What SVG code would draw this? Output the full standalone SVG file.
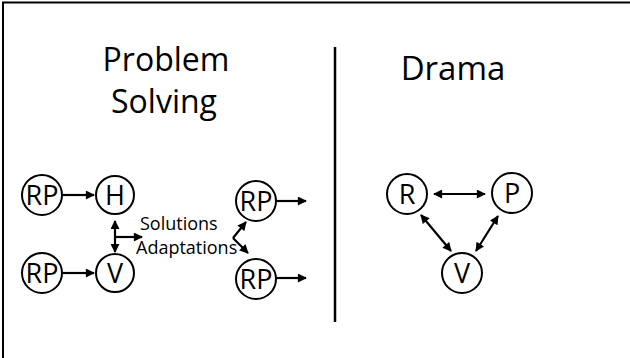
<svg xmlns="http://www.w3.org/2000/svg" width="630" height="358" viewBox="0 0 630 358">
<defs>
<style>
.n circle{fill:#fff;stroke:#000;stroke-width:2}
.n text{font-family:"Open Sans","Liberation Sans",sans-serif;font-size:27px;fill:#000;text-anchor:middle}
.t{font-family:"Open Sans","Liberation Sans",sans-serif;fill:#000}
.c line,.c path{stroke:#000;stroke-width:2.2;fill:none}
</style>
<marker id="ah" viewBox="0 0 10 10" refX="9" refY="5" markerWidth="10" markerHeight="9" markerUnits="userSpaceOnUse" orient="auto-start-reverse">
<path d="M0,0 L10,5 L0,10 Z" fill="#000"/>
</marker>
</defs>
<rect width="630" height="358" fill="#fff"/>
<g id="frame">
<line x1="2" y1="2.5" x2="630" y2="2.5" stroke="#000" stroke-width="2"/>
<line x1="3" y1="2" x2="3" y2="358" stroke="#000" stroke-width="2"/>
<line x1="335" y1="47" x2="335" y2="322" stroke="#000" stroke-width="2.5"/>
</g>
<g id="titles">
<text class="t" x="166" y="71" font-size="32" text-anchor="middle">Problem</text>
<text class="t" x="164" y="113" font-size="32" text-anchor="middle">Solving</text>
<text class="t" x="453" y="80" font-size="33" text-anchor="middle">Drama</text>
<text class="t" x="140" y="230" font-size="18">Solutions</text>
<text class="t" x="136" y="254" font-size="18">Adaptations</text>
</g>
<g class="c" id="connectors">
<line x1="62" y1="195" x2="94" y2="195" marker-end="url(#ah)"/>
<line x1="62" y1="273" x2="94" y2="273" marker-end="url(#ah)"/>
<line x1="115" y1="221" x2="115" y2="252" marker-start="url(#ah)" marker-end="url(#ah)"/>
<line x1="116" y1="237" x2="142" y2="237" marker-end="url(#ah)"/>
<line x1="233" y1="238" x2="246" y2="222" marker-end="url(#ah)"/>
<line x1="233" y1="238" x2="248" y2="253" marker-end="url(#ah)"/>
<line x1="276" y1="201" x2="306" y2="201" marker-end="url(#ah)"/>
<line x1="276" y1="278" x2="306" y2="278" marker-end="url(#ah)"/>
<line x1="434" y1="194" x2="485" y2="194" marker-start="url(#ah)" marker-end="url(#ah)"/>
<line x1="421" y1="215" x2="451" y2="251" marker-start="url(#ah)" marker-end="url(#ah)"/>
<line x1="498" y1="216" x2="476" y2="251" marker-start="url(#ah)" marker-end="url(#ah)"/>
</g>
<g class="n" id="rp1"><circle cx="42" cy="195" r="20"/><text x="42" y="204.5">RP</text></g>
<g class="n" id="h"><circle cx="115" cy="195" r="19"/><text x="115" y="204.5">H</text></g>
<g class="n" id="rp2"><circle cx="42" cy="273" r="20"/><text x="42" y="282.5">RP</text></g>
<g class="n" id="v1"><circle cx="115" cy="273" r="19"/><text x="115" y="282.5">V</text></g>
<g class="n" id="rp3"><circle cx="256" cy="201" r="20"/><text x="256" y="210.5">RP</text></g>
<g class="n" id="rp4"><circle cx="256" cy="279" r="20"/><text x="256" y="288.5">RP</text></g>
<g class="n" id="r"><circle cx="407" cy="194" r="20"/><text x="407" y="203.5">R</text></g>
<g class="n" id="p"><circle cx="512" cy="193" r="20"/><text x="512" y="202.5">P</text></g>
<g class="n" id="v2"><circle cx="462" cy="273" r="20"/><text x="462" y="282.5">V</text></g>
</svg>
